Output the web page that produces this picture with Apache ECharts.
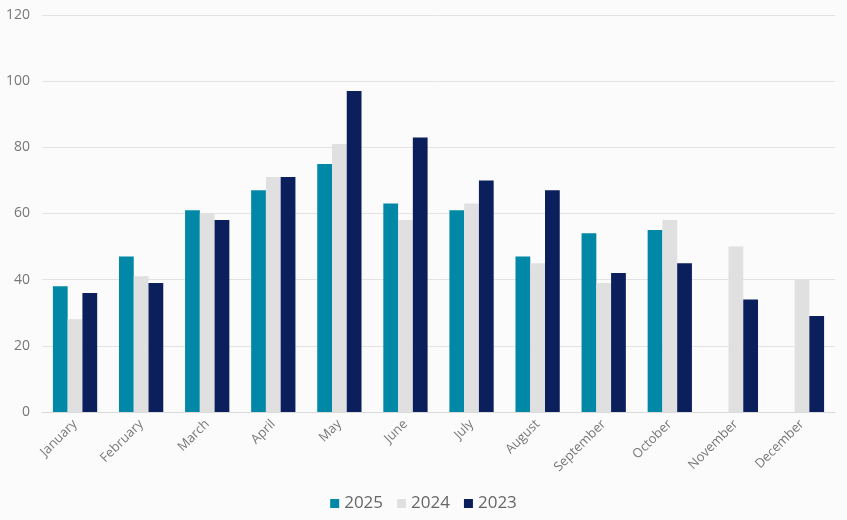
<!DOCTYPE html>
<html><head><meta charset="utf-8">
<script src="https://cdn.jsdelivr.net/npm/echarts@6/dist/echarts.min.js"></script>
<style>html,body{margin:0;padding:0;background:#fbfbfb}#c{width:847px;height:520px}</style>
</head><body><div id="c"></div>
<script>
const months = ["January","February","March","April","May","June","July","August","September","October","November","December"];
const s2025 = [38,47,61,67,75,63,61,47,54,55,null,null];
const s2024 = [28,41,60,71,81,58,63,45,39,58,50,40];
const s2023 = [36,39,58,71,97,83,70,67,42,45,34,29];
const yTicks = {min:0, max:120, interval:20};

const chart = echarts.init(document.getElementById('c'));
const font = '"Open Sans", Lato, sans-serif';
chart.setOption({
  backgroundColor:'#fbfbfb',
  animation:false,
  textStyle:{fontFamily:font},
  grid:{left:42,right:12,top:15,bottom:108,containLabel:false},
  legend:{bottom:3,left:'center',itemWidth:9,itemHeight:9,itemGap:14,
    textStyle:{color:'#666',fontSize:17,fontFamily:font},
    icon:'rect', data:['2025','2024','2023']},
  xAxis:{type:'category',data:months,
    axisLine:{lineStyle:{color:'#d9d9d9'}},axisTick:{show:false},
    axisLabel:{rotate:45,color:'#777',fontSize:13,margin:10,interval:0}},
  yAxis:{type:'value',min:yTicks.min,max:yTicks.max,interval:yTicks.interval,
    axisLine:{show:false},axisTick:{show:false},
    splitLine:{lineStyle:{color:'#e3e3e3'}},
    axisLabel:{color:'#777',fontSize:14,margin:12}},
  series:[
    {name:'2025',type:'bar',data:s2025,itemStyle:{color:'#0088a6'},barGap:'0%',barCategoryGap:'33%'},
    {name:'2024',type:'bar',data:s2024,itemStyle:{color:'#e0e0e0'}},
    {name:'2023',type:'bar',data:s2023,itemStyle:{color:'#0a1f5c'}}
  ]
});
</script></body></html>
